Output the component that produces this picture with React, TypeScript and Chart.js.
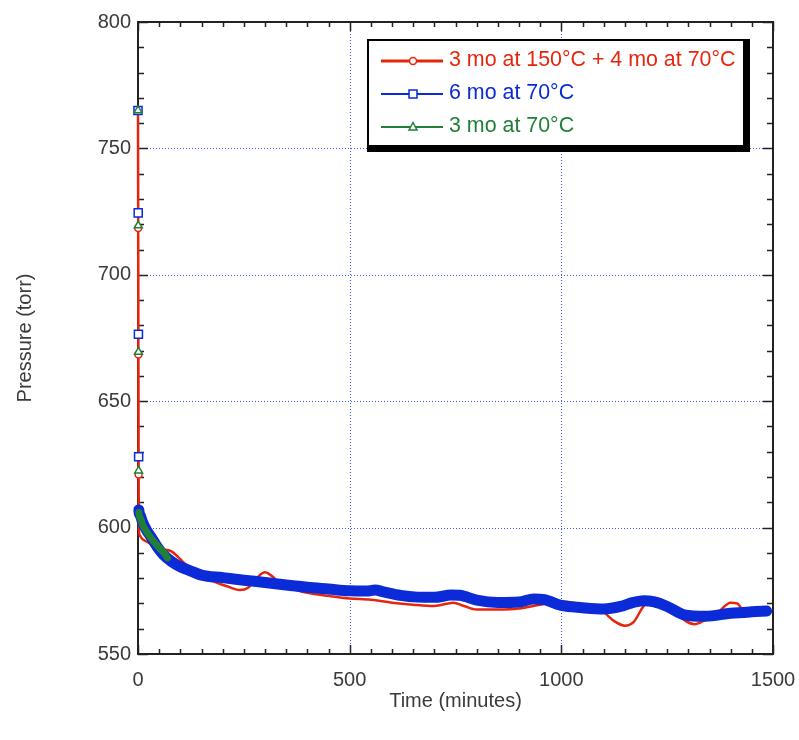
import React, { useEffect, useRef } from "react";
import { Chart, registerables } from "chart.js";

Chart.register(...registerables);

// ---- data (time in minutes, pressure in torr) ----
const redTime = [0, 0.5, 1, 1.5, 2, 4, 10, 20, 35, 50, 65, 80, 95, 110, 130, 160, 190, 210, 240, 260, 280, 300, 315, 335, 360, 400, 450, 500, 550, 600, 650, 700, 745, 770, 800, 850, 900, 950, 1000, 1050, 1100, 1125, 1150, 1170, 1195, 1225, 1260, 1290, 1315, 1340, 1370, 1400, 1415, 1430];
const redPressure = [765, 718.5, 668.5, 621, 600.5, 597, 595.5, 594.5, 593, 592, 591.3, 590.5, 588.3, 585.8, 583, 580, 578, 576.8, 575.3, 576.2, 580, 582.3, 581, 578, 576, 574.2, 573, 572, 571.5, 570.3, 569.5, 569, 570.3, 569, 567.6, 567.6, 568, 569.5, 570.8, 569.5, 566.5, 563, 561.2, 562.5, 569, 572, 568.5, 563.5, 561.8, 563.5, 566.5, 570.3, 570, 567];

const blueTime = [0, 0.5, 1, 1.5, 2, 5, 10, 20, 30, 45, 60, 80, 100, 125, 150, 200, 250, 300, 350, 400, 450, 500, 540, 560, 580, 620, 660, 700, 740, 760, 800, 850, 900, 935, 960, 1000, 1050, 1100, 1140, 1170, 1195, 1220, 1250, 1290, 1340, 1400, 1450, 1485];
const bluePressure = [765, 724.5, 676.5, 628, 607, 605, 602.5, 599, 596.5, 592.5, 589.3, 586.5, 584.5, 582.8, 581.2, 580.2, 579.2, 578.3, 577.3, 576.4, 575.7, 575, 574.9, 575.3, 574.6, 573.2, 572.5, 572.4, 573.3, 573.2, 571.3, 570.4, 570.6, 571.8, 571.5, 569.2, 568.3, 567.8, 568.8, 570.4, 571.1, 570.6, 568.8, 565.5, 564.9, 566.1, 566.7, 567];

const greenTime = [0, 0.5, 1, 1.5, 2, 5, 10, 20, 30, 40, 50, 60, 70];
const greenPressure = [765, 719.5, 669.5, 622.5, 606, 604, 601.5, 598.5, 596, 594, 592, 590.3, 588];

const seriesLabels = ["3 mo at 150°C + 4 mo at 70°C", "6 mo at 70°C", "3 mo at 70°C"];
const xTickValues = [0, 500, 1000, 1500];
const yTickValues = [550, 600, 650, 700, 750, 800];
const xMinorStep = 50;
const yMinorStep = 10;

const RED = "#e6260c";
const BLUE = "#0b2ad8";
const GREEN = "#218038";
const GRID = "#3f55e8";
const FRAME = "#222";
const TEXT = "#3a3a3a";
const FONT = "'Liberation Sans', Arial, Helvetica, sans-serif";

const spikeCount = 4;

const toPoints = (xs: number[], ys: number[]) => xs.map((x, i) => ({ x, y: ys[i] }));

const frameGridPlugin = {
  id: "frameGrid",
  beforeDatasetsDraw(chart: any) {
    const { ctx, chartArea: a, scales } = chart;
    const xs = scales.x;
    const ys = scales.y;
    ctx.save();
    // dotted grid at major ticks
    ctx.strokeStyle = GRID;
    ctx.lineWidth = 1;
    ctx.setLineDash([1, 2]);
    for (const v of xTickValues) {
      if (v === xs.min || v === xs.max) continue;
      const px = Math.round(xs.getPixelForValue(v)) + 0.5;
      ctx.beginPath();
      ctx.moveTo(px, a.top);
      ctx.lineTo(px, a.bottom);
      ctx.stroke();
    }
    for (const v of yTickValues) {
      if (v === ys.min || v === ys.max) continue;
      const py = Math.round(ys.getPixelForValue(v)) + 0.5;
      ctx.beginPath();
      ctx.moveTo(a.left, py);
      ctx.lineTo(a.right, py);
      ctx.stroke();
    }
    ctx.setLineDash([]);
    // frame
    ctx.strokeStyle = FRAME;
    ctx.lineWidth = 2;
    ctx.strokeRect(a.left, a.top, a.right - a.left, a.bottom - a.top);
    // ticks (inward, all four sides)
    ctx.lineWidth = 1.5;
    for (let v = xs.min; v <= xs.max; v += xMinorStep) {
      const major = xTickValues.includes(v);
      const len = major ? 9 : 5;
      const px = Math.round(xs.getPixelForValue(v)) + 0.5;
      ctx.beginPath();
      ctx.moveTo(px, a.bottom);
      ctx.lineTo(px, a.bottom - len);
      ctx.moveTo(px, a.top);
      ctx.lineTo(px, a.top + len);
      ctx.stroke();
    }
    for (let v = ys.min; v <= ys.max; v += yMinorStep) {
      const major = yTickValues.includes(v);
      const len = major ? 10 : 6;
      const py = Math.round(ys.getPixelForValue(v)) + 0.5;
      ctx.beginPath();
      ctx.moveTo(a.left, py);
      ctx.lineTo(a.left + len, py);
      ctx.moveTo(a.right, py);
      ctx.lineTo(a.right - len, py);
      ctx.stroke();
    }
    ctx.restore();
  },
};

function drawMarker(ctx: CanvasRenderingContext2D, kind: string, x: number, y: number, color: string) {
  ctx.save();
  ctx.strokeStyle = color;
  ctx.fillStyle = "#fff";
  ctx.lineWidth = 1.5;
  ctx.beginPath();
  if (kind === "circle") {
    ctx.arc(x, y, 3.5, 0, Math.PI * 2);
  } else if (kind === "rect") {
    ctx.rect(x - 4, y - 4, 8, 8);
  } else {
    ctx.moveTo(x, y - 4.5);
    ctx.lineTo(x + 4, y + 3);
    ctx.lineTo(x - 4, y + 3);
    ctx.closePath();
  }
  ctx.fill();
  ctx.stroke();
  ctx.restore();
}

const boxLegendPlugin = {
  id: "boxLegend",
  afterDraw(chart: any) {
    const ctx: CanvasRenderingContext2D = chart.ctx;
    const bx = 368, by = 40, bw = 376, bh = 106;
    ctx.save();
    ctx.fillStyle = "#000";
    ctx.fillRect(bx - 1, by - 1, bw + 7, bh + 7);
    ctx.fillStyle = "#fff";
    ctx.fillRect(bx + 1, by + 1, bw - 2, bh - 2);
    const rows = [
      { label: seriesLabels[0], color: RED, marker: "circle", width: 3, y: 61 },
      { label: seriesLabels[1], color: BLUE, marker: "rect", width: 2, y: 94 },
      { label: seriesLabels[2], color: GREEN, marker: "triangle", width: 2, y: 127 },
    ];
    for (const r of rows) {
      ctx.strokeStyle = r.color;
      ctx.lineWidth = r.width;
      ctx.beginPath();
      ctx.moveTo(381, r.y);
      ctx.lineTo(443, r.y);
      ctx.stroke();
      drawMarker(ctx, r.marker, 413, r.y, r.color);
      ctx.fillStyle = r.color;
      ctx.font = `21.4px ${FONT}`;
      ctx.textBaseline = "middle";
      ctx.textAlign = "left";
      ctx.fillText(r.label, 449, r.y - 1);
    }
    ctx.restore();
  },
};

export default function App() {
  const ref = useRef<HTMLCanvasElement>(null);

  useEffect(() => {
    const canvas = ref.current;
    if (!canvas) return;
    const chart = new Chart(canvas, {
      type: "line",
      data: {
        datasets: [
          {
            label: seriesLabels[0],
            data: toPoints(redTime, redPressure),
            borderColor: RED,
            borderWidth: 2.5,
            cubicInterpolationMode: "monotone",
            pointStyle: "circle",
            pointRadius: (c: any) => (c.dataIndex < spikeCount ? 3.5 : 0),
            pointBorderColor: RED,
            pointBackgroundColor: "#fff",
            pointBorderWidth: 1.5,
            clip: false,
            order: 3,
          },
          {
            label: seriesLabels[1],
            data: toPoints(blueTime, bluePressure),
            borderColor: BLUE,
            borderWidth: 11,
            borderJoinStyle: "round",
            borderCapStyle: "round",
            cubicInterpolationMode: "monotone",
            segment: {
              borderColor: (c: any) => (c.p0DataIndex < spikeCount ? "rgba(0,0,0,0)" : BLUE),
              borderWidth: (c: any) => (c.p0DataIndex < spikeCount ? 1 : 11),
            },
            pointStyle: "rect",
            pointRadius: (c: any) => (c.dataIndex < spikeCount ? 5.7 : 0),
            pointBorderColor: BLUE,
            pointBackgroundColor: "#fff",
            pointBorderWidth: 1.5,
            clip: false,
            order: 2,
          },
          {
            label: seriesLabels[2],
            data: toPoints(greenTime, greenPressure),
            borderColor: GREEN,
            borderWidth: 7,
            borderJoinStyle: "round",
            borderCapStyle: "round",
            cubicInterpolationMode: "monotone",
            segment: {
              borderColor: (c: any) => (c.p0DataIndex < spikeCount ? "rgba(0,0,0,0)" : GREEN),
              borderWidth: (c: any) => (c.p0DataIndex < spikeCount ? 1 : 7),
            },
            pointStyle: "triangle",
            pointRadius: (c: any) => (c.dataIndex < spikeCount ? 4.5 : 0),
            pointBorderColor: GREEN,
            pointBackgroundColor: "#fff",
            pointBorderWidth: 1.5,
            clip: false,
            order: 1,
          },
        ] as any,
      },
      options: {
        responsive: false,
        maintainAspectRatio: false,
        devicePixelRatio: 1,
        animation: false,
        layout: { padding: { top: 22, right: 26, bottom: 0, left: 0 } },
        plugins: {
          legend: { display: false },
          tooltip: { enabled: false },
        },
        scales: {
          x: {
            type: "linear",
            min: 0,
            max: 1500,
            grid: { display: false, drawTicks: false },
            border: { display: false },
            afterBuildTicks: (s: any) => {
              s.ticks = xTickValues.map((v) => ({ value: v }));
            },
            afterFit: (s: any) => {
              s.height = 86;
              s.paddingLeft = 0;
              s.paddingRight = 0;
            },
            ticks: {
              padding: 14,
              maxRotation: 0,
              autoSkip: false,
              color: TEXT,
              font: { family: FONT, size: 20 },
              callback: (v: any) => String(v),
            },
            title: {
              display: true,
              text: "Time (minutes)",
              color: TEXT,
              font: { family: FONT, size: 20 },
              padding: { top: 0, bottom: 27 },
            },
          },
          y: {
            type: "linear",
            min: 550,
            max: 800,
            grid: { display: false, drawTicks: false },
            border: { display: false },
            afterBuildTicks: (s: any) => {
              s.ticks = yTickValues.map((v) => ({ value: v }));
            },
            afterFit: (s: any) => {
              s.width = 138;
              s.paddingTop = 0;
              s.paddingBottom = 0;
            },
            ticks: {
              padding: 7,
              autoSkip: false,
              color: TEXT,
              font: { family: FONT, size: 20 },
              callback: (v: any) => String(v),
            },
            title: {
              display: true,
              text: "Pressure (torr)",
              color: TEXT,
              font: { family: FONT, size: 20 },
              padding: { top: 13, bottom: 0 },
            },
          },
        },
      } as any,
      plugins: [frameGridPlugin, boxLegendPlugin],
    });
    return () => chart.destroy();
  }, []);

  return (
    <div style={{ position: "fixed", left: 0, top: 0, width: 799, height: 740, background: "#fff" }}>
      <canvas ref={ref} width={799} height={740} style={{ display: "block", width: 799, height: 740 }} />
    </div>
  );
}
